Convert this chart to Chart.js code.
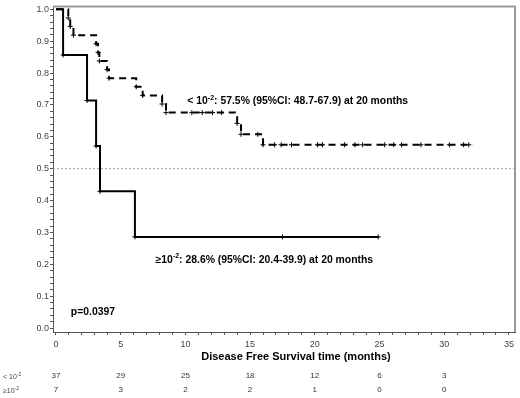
<!DOCTYPE html>
<html>
<head>
<meta charset="utf-8">
<script src="https://cdn.jsdelivr.net/npm/chart.js@4/dist/chart.umd.min.js"></script>
<style>
  html, body { margin: 0; padding: 0; background: #fff; }
</style>
</head>
<body>
<canvas id="km" width="520" height="398"></canvas>
<script>
// Kaplan-Meier steps (time in months, survival after the drop)
var lowTimes = [0, 0.95, 1.1, 1.35, 3.1, 3.25, 3.35, 3.95, 4.1, 6.2, 6.7, 8.2, 8.5, 14.0, 14.3, 16.0, 32.2];
var lowSurv  = [1, 0.973, 0.946, 0.919, 0.892, 0.865, 0.838, 0.811, 0.784, 0.757, 0.730, 0.703, 0.676, 0.642, 0.608, 0.575, 0.575];
var lowCensored = [0.95, 1.1, 1.35, 3.1, 3.25, 3.35, 3.95, 4.1, 6.2, 6.7, 8.2, 8.5, 10.5, 11.3, 12.1, 12.8, 14.0, 14.3,
                   15.6, 16.0, 16.9, 17.4, 18.2, 20.2, 20.6, 22.3, 23.1, 23.7, 25.4, 26.1, 26.7, 28.2, 30.4, 31.5, 31.9];

var highTimes = [0, 0.55, 2.4, 3.1, 3.4, 6.1, 24.9];
var highSurv  = [1, 0.857, 0.714, 0.571, 0.429, 0.286, 0.286];
var highCensored = [0.55, 2.4, 3.1, 3.4, 6.1, 17.5, 24.9];

var refLevel = 0.5;

// numbers at risk
var riskTimes = [0, 5, 10, 15, 20, 25, 30];
var riskLow   = [37, 29, 25, 18, 12, 6, 3];
var riskHigh  = [7, 3, 2, 2, 1, 0, 0];

var xTickLabels = [0, 5, 10, 15, 20, 25, 30, 35];
var yTickLabels = ['0.0', '0.1', '0.2', '0.3', '0.4', '0.5', '0.6', '0.7', '0.8', '0.9', '1.0'];

var xMin = -0.23, xMax = 35.47;
var yMin = -0.0125, yMax = 1.0093;

function steps(times, surv) {
  return times.map(function (t, i) { return { x: t, y: surv[i] }; });
}
function survAt(times, surv, t) {
  var s = surv[0];
  for (var i = 0; i < times.length; i++) { if (times[i] <= t) s = surv[i]; }
  return s;
}
function marks(cens, times, surv) {
  return cens.map(function (t) { return { x: t, y: survAt(times, surv, t) }; });
}

// rich text with superscripts: parts = [[text, isSup], ...]
function drawRich(ctx, parts, x, y, size, weight, color) {
  ctx.save();
  ctx.fillStyle = color;
  ctx.textBaseline = 'alphabetic';
  ctx.textAlign = 'left';
  var cx = x;
  parts.forEach(function (p) {
    var fs = p[1] ? Math.round(size * 0.7) : size;
    ctx.font = weight + ' ' + fs + 'px "Liberation Sans", Arial, sans-serif';
    ctx.fillText(p[0], cx, p[1] ? y - size * 0.42 : y);
    cx += ctx.measureText(p[0]).width;
  });
  ctx.restore();
}

var decor = {
  id: 'decor',
  beforeDatasetsDraw: function (chart) {
    var ctx = chart.ctx, a = chart.chartArea;
    ctx.save();
    ctx.strokeStyle = '#9a9a9a';
    ctx.lineWidth = 2;
    ctx.beginPath();
    ctx.moveTo(a.left, a.top);
    ctx.lineTo(a.right, a.top);
    ctx.lineTo(a.right, a.bottom);
    ctx.stroke();
    ctx.restore();
  },
  afterDraw: function (chart) {
    var ctx = chart.ctx, xs = chart.scales.x, ys = chart.scales.y;

    drawRich(ctx, [['< 10', false], ['-2', true], [': 57.5% (95%CI: 48.7-67.9) at 20 months', false]],
      xs.getPixelForValue(10.15), ys.getPixelForValue(0.703), 10.4, 'bold', '#000');
    drawRich(ctx, [['\u226510', false], ['-2', true], [': 28.6% (95%CI: 20.4-39.9) at 20 months', false]],
      xs.getPixelForValue(7.7), ys.getPixelForValue(0.205), 10.4, 'bold', '#000');
    drawRich(ctx, [['p=0.0397', false]],
      xs.getPixelForValue(1.15), ys.getPixelForValue(0.04), 10.4, 'bold', '#000');

    // axis title
    ctx.save();
    ctx.font = 'bold 11px "Liberation Sans", Arial, sans-serif';
    ctx.fillStyle = '#000';
    ctx.textAlign = 'center';
    ctx.textBaseline = 'middle';
    ctx.fillText('Disease Free Survival time (months)', 296, 357);

    // number at risk table
    ctx.font = '8px "Liberation Sans", Arial, sans-serif';
    ctx.fillStyle = '#333';
    riskTimes.forEach(function (t, i) {
      var px = xs.getPixelForValue(t);
      ctx.fillText(String(riskLow[i]), px, 376);
      ctx.fillText(String(riskHigh[i]), px, 390);
    });
    ctx.restore();
    drawRich(ctx, [['< 10', false], ['-2', true]], 3, 379, 7, 'normal', '#444');
    drawRich(ctx, [['\u226510', false], ['-2', true]], 3, 393, 7, 'normal', '#444');
  }
};

var ctx = document.getElementById('km');
var kmChart = new Chart(ctx, {
  type: 'scatter',
  data: {
    datasets: [
      {
        data: [{ x: xMin, y: refLevel }, { x: xMax, y: refLevel }],
        showLine: true,
        borderColor: '#a0a0a0',
        borderWidth: 1,
        borderDash: [2, 2],
        pointRadius: 0
      },
      {
        label: '< 10-2',
        data: steps(lowTimes, lowSurv),
        showLine: true,
        stepped: true,
        borderColor: '#000',
        borderWidth: 2,
        borderDash: [7, 5],
        pointRadius: 0
      },
      {
        label: '>=10-2',
        data: steps(highTimes, highSurv),
        showLine: true,
        stepped: true,
        borderColor: '#000',
        borderWidth: 2,
        pointRadius: 0
      },
      {
        data: marks(lowCensored, lowTimes, lowSurv),
        pointStyle: 'cross',
        pointRadius: 2.5,
        pointBorderWidth: 1,
        borderColor: '#000',
        backgroundColor: '#000'
      },
      {
        data: marks(highCensored, highTimes, highSurv),
        pointStyle: 'cross',
        pointRadius: 2.5,
        pointBorderWidth: 1,
        borderColor: '#000',
        backgroundColor: '#000'
      }
    ]
  },
  options: {
    responsive: false,
    animation: false,
    layout: { padding: { left: 0, right: 4, top: 4, bottom: 34 } },
    plugins: { legend: { display: false }, tooltip: { enabled: false } },
    scales: {
      x: {
        type: 'linear',
        min: xMin,
        max: xMax,
        afterFit: function (s) { s.height = 32; },
        afterBuildTicks: function (s) {
          var t = [];
          for (var v = 0; v <= 35; v++) t.push({ value: v });
          s.ticks = t;
        },
        grid: { drawOnChartArea: false, drawTicks: true, tickLength: 3, color: '#555' },
        border: { color: '#555', width: 1 },
        ticks: {
          autoSkip: false,
          maxRotation: 0,
          padding: 4,
          color: '#444',
          font: { family: '"Liberation Sans", Arial, sans-serif', size: 9 },
          callback: function (v) { return xTickLabels.indexOf(v) >= 0 ? String(v) : ''; }
        }
      },
      y: {
        type: 'linear',
        min: yMin,
        max: yMax,
        afterFit: function (s) { s.width = 53; },
        afterBuildTicks: function (s) {
          var t = [];
          for (var k = 0; k <= 50; k++) t.push({ value: k / 50 });
          s.ticks = t;
        },
        grid: { drawOnChartArea: false, drawTicks: true, tickLength: 3, color: '#555' },
        border: { color: '#555', width: 1 },
        ticks: {
          autoSkip: false,
          padding: 1,
          color: '#444',
          font: { family: '"Liberation Sans", Arial, sans-serif', size: 9 },
          callback: function (v) {
            var k = Math.round(v * 50);
            return k % 5 === 0 ? yTickLabels[k / 5] : '';
          }
        }
      }
    }
  },
  plugins: [decor]
});
</script>
</body>
</html>
